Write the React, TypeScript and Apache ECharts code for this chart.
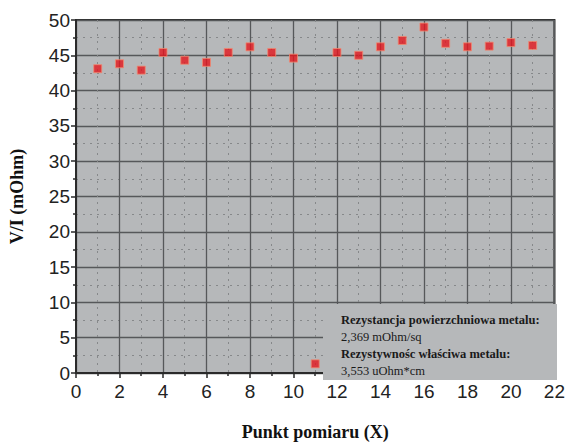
import React, { useEffect, useRef } from "react";
import * as echarts from "echarts";

const xPoints = [1, 2, 3, 4, 5, 6, 7, 8, 9, 10, 11, 12, 13, 14, 15, 16, 17, 18, 19, 20, 21];
const yValues = [43.1, 43.8, 42.9, 45.4, 44.3, 44.0, 45.4, 46.2, 45.4, 44.6, 1.3, 45.4, 45.0, 46.2, 47.1, 49.0, 46.7, 46.2, 46.3, 46.8, 46.4];
const infoLines = [
  "Rezystancja powierzchniowa metalu:",
  "2,369 mOhm/sq",
  "Rezystywnośc właściwa metalu:",
  "3,553 uOhm*cm",
];
const infoBold = [true, false, true, false];

export default function App() {
  const ref = useRef<HTMLDivElement>(null);
  useEffect(() => {
    if (!ref.current) return;
    const chart = echarts.init(ref.current, null, { renderer: "svg" });
    const serif = "Liberation Serif";
    const sans = "Liberation Sans";
    const data = xPoints.map((x, i) => [x, yValues[i]]);
    chart.setOption({
      animation: false,
      backgroundColor: "#ffffff",
      grid: {
        left: 74,
        right: 10,
        top: 20,
        bottom: 65,
        show: true,
        backgroundColor: "#b6b8ba",
        borderColor: "#2a2a2a",
        borderWidth: 2,
      },
      xAxis: {
        type: "value",
        min: 0,
        max: 22,
        interval: 2,
        name: "Punkt pomiaru (X)",
        nameLocation: "middle",
        nameGap: 50,
        nameTextStyle: { fontFamily: serif, fontWeight: "bold", fontSize: 18, color: "#111" },
        axisLine: { show: true, onZero: false, lineStyle: { color: "#2a2a2a", width: 2 } },
        axisTick: { show: true, inside: false, length: 5, lineStyle: { color: "#2a2a2a", width: 1.5 } },
        minorTick: { show: true, splitNumber: 2, length: 3, lineStyle: { color: "#2a2a2a", width: 1.5 } },
        axisLabel: { fontFamily: sans, fontSize: 19, color: "#222", margin: 9 },
        splitLine: { show: true, lineStyle: { color: "#56585a", width: 1.3 } },
        minorSplitLine: { show: true, lineStyle: { color: "#86888a", width: 1, type: [2, 5] } },
      },
      yAxis: {
        type: "value",
        min: 0,
        max: 50,
        interval: 5,
        name: "V/I (mOhm)",
        nameLocation: "middle",
        nameGap: 50,
        nameTextStyle: { fontFamily: serif, fontWeight: "bold", fontSize: 18, color: "#111" },
        axisLine: { show: true, lineStyle: { color: "#2a2a2a", width: 2 } },
        axisTick: { show: true, inside: false, length: 5, lineStyle: { color: "#2a2a2a", width: 1.5 } },
        minorTick: { show: true, splitNumber: 2, length: 3, lineStyle: { color: "#2a2a2a", width: 1.5 } },
        axisLabel: { fontFamily: sans, fontSize: 19, color: "#222", margin: 6 },
        splitLine: { show: true, lineStyle: { color: "#56585a", width: 1.3 } },
        minorSplitLine: { show: true, lineStyle: { color: "#86888a", width: 1, type: [2, 5] } },
      },
      series: [
        {
          type: "scatter",
          data,
          symbol: "rect",
          symbolSize: 8,
          z: 10,
          itemStyle: { color: "#e3171e", borderColor: "#f08a70", borderWidth: 1 },
        },
      ],
      graphic: [
        {
          type: "rect",
          z: 50,
          shape: { x: 323, y: 304, width: 234, height: 76 },
          style: { fill: "#b6b8ba" },
        },
        ...infoLines.map((t, i) => ({
          type: "text",
          z: 60,
          x: 341,
          y: 313 + i * 17,
          style: {
            text: t,
            fontFamily: serif,
            fontSize: 12.5,
            fontWeight: infoBold[i] ? "bold" : "normal",
            fill: "#1a1a1a",
          },
        })),
      ],
    });
    return () => chart.dispose();
  }, []);
  return <div ref={ref} style={{ width: 568, height: 446, position: "absolute", left: 0, top: 0 }} />;
}
